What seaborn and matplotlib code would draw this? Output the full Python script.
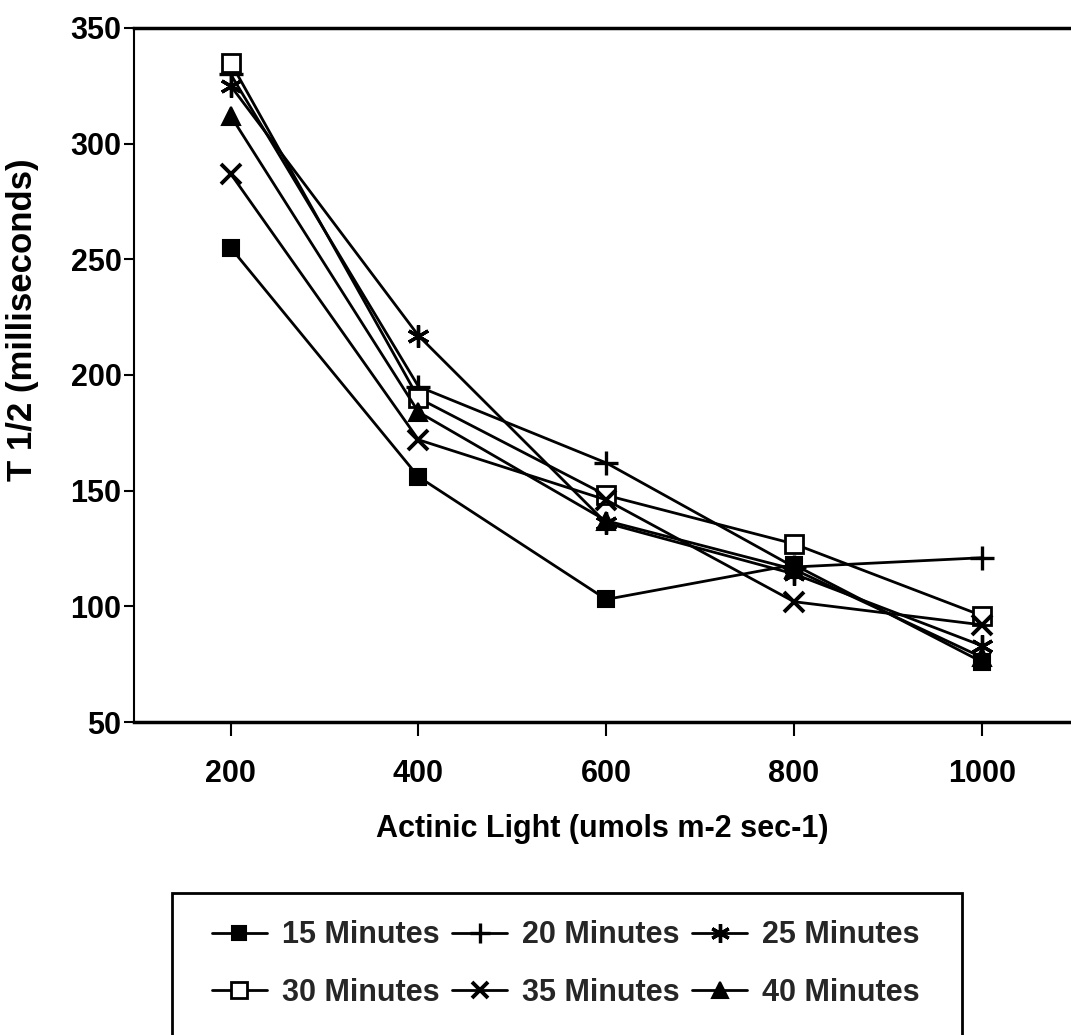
import matplotlib
matplotlib.use("Agg")
import matplotlib.pyplot as plt
from matplotlib.patches import Rectangle
import seaborn as sns
import pandas as pd

# Actinic light levels (umols m-2 sec-1)
light = [200, 400, 600, 800, 1000]

# T 1/2 (milliseconds) for each dark-adaptation time
min15 = [255, 156, 103, 118, 76]
min20 = [330, 195, 162, 117, 121]
min25 = [325, 217, 136, 114, 83]
min30 = [335, 190, 148, 127, 96]
min35 = [287, 172, 146, 102, 92]
min40 = [312, 184, 137, 116, 78]

series_names = ["15 Minutes", "20 Minutes", "25 Minutes",
                "30 Minutes", "35 Minutes", "40 Minutes"]
series_values = [min15, min20, min25, min30, min35, min40]

y_ticks = [50, 100, 150, 200, 250, 300, 350]
x_ticks = [200, 400, 600, 800, 1000]

sns.set_theme(style="white")
plt.rcParams["font.family"] = ["Liberation Sans", "DejaVu Sans"]
plt.rcParams["font.weight"] = "bold"

W, H = 1071, 1035
fig = plt.figure(figsize=(W / 100, H / 100), dpi=100)
ax = fig.add_axes([134 / W, 1 - 722 / H, 1 - 134 / W, (722 - 28) / H])

df = pd.DataFrame({
    "light": light * len(series_names),
    "t12": [v for vals in series_values for v in vals],
    "series": [n for n in series_names for _ in light],
})

styles = {
    "15 Minutes": dict(marker="s", markersize=12, markerfacecolor="black", markeredgewidth=1.5),
    "20 Minutes": dict(marker="+", markersize=17, markeredgewidth=2.4),
    "25 Minutes": dict(marker=(6, 2, 0), markersize=16, markeredgewidth=2.4),
    "30 Minutes": dict(marker="s", markersize=13, markerfacecolor="white", markeredgewidth=2.0),
    "35 Minutes": dict(marker="x", markersize=14, markeredgewidth=2.8),
    "40 Minutes": dict(marker="^", markersize=13, markerfacecolor="black", markeredgewidth=1.5),
}

for name in series_names:
    sub = df[df["series"] == name]
    sns.lineplot(data=sub, x="light", y="t12", color="black", linewidth=2.0,
                 markeredgecolor="black", label=name, ax=ax, **styles[name])

ax.set_xlim(97, 1095)
ax.set_ylim(50, 350)
ax.set_xticks(x_ticks)
ax.set_yticks(y_ticks)
ax.tick_params(axis="x", direction="out", length=10, width=1.5, pad=17,
               labelsize=22, bottom=True, colors="black")
ax.tick_params(axis="y", direction="out", length=7, width=1.5, pad=2,
               labelsize=22, left=True, colors="black")
for lab in ax.get_xticklabels() + ax.get_yticklabels():
    lab.set_fontweight("bold")

ax.set_xlabel("Actinic Light (umols m-2 sec-1)", fontsize=22, fontweight="bold",
              labelpad=18, color="black")
ax.set_ylabel("T 1/2 (milliseconds)", fontsize=25, fontweight="bold",
              color="black")
ax.yaxis.set_label_coords(-95 / (W - 134), 0.58)

ax.spines["right"].set_visible(False)
ax.spines["left"].set_linewidth(1.5)
ax.spines["bottom"].set_linewidth(2.5)
ax.spines["top"].set_linewidth(2.5)
for s in ["left", "bottom", "top"]:
    ax.spines[s].set_color("black")

# Legend entries fill row by row: 15/20/25 on top, 30/35/40 below
handles, labels = ax.get_legend_handles_labels()
ax.get_legend().remove()
order = [0, 3, 1, 4, 2, 5]
fig.legend([handles[i] for i in order], [labels[i] for i in order], ncol=3,
           loc="center", bbox_to_anchor=(566 / W, 1 - 964 / H), frameon=False,
           prop={"size": 22, "weight": "bold"}, handlelength=1.8,
           handletextpad=0.5, columnspacing=0.4, labelspacing=0.9,
           markerscale=0.85)

# Legend frame, open at the bottom edge of the figure
fig.patches.append(Rectangle((172 / W, -0.01), (962 - 172) / W, 1 - 893 / H + 0.01,
                             transform=fig.transFigure, fill=False,
                             edgecolor="black", linewidth=2.0))

fig.savefig("out.png", dpi=100, facecolor="white")
